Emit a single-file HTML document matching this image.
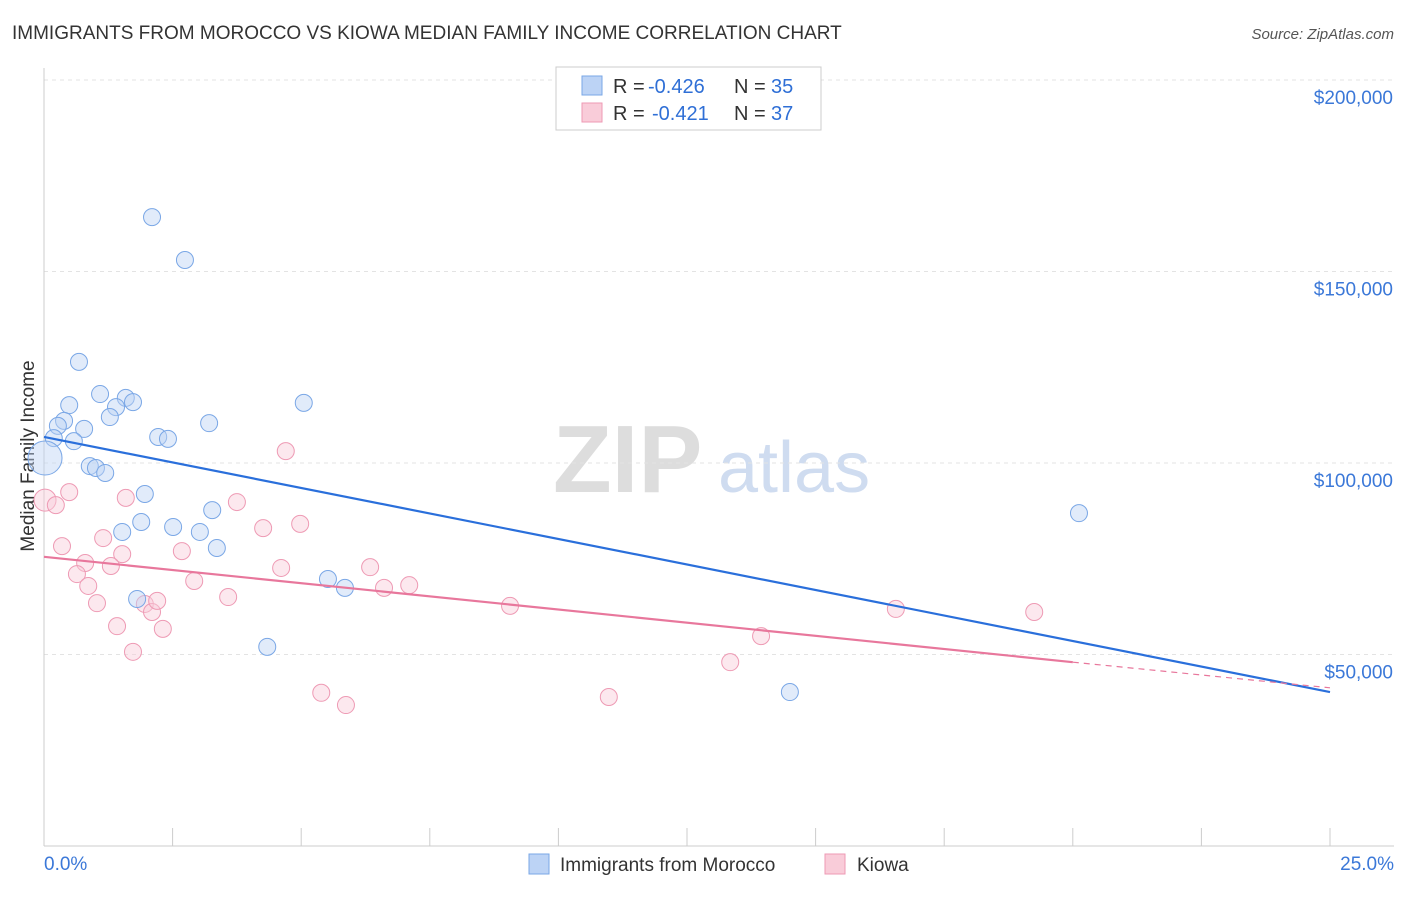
<!DOCTYPE html>
<html><head><meta charset="utf-8"><style>
body{margin:0;background:#fff;font-family:"Liberation Sans",sans-serif}
svg text{font-family:"Liberation Sans",sans-serif}
</style></head><body>
<svg id="c" width="1406" height="892" viewBox="0 0 1406 892" xmlns="http://www.w3.org/2000/svg">
<text x="12" y="39" font-size="19" fill="#333">IMMIGRANTS FROM MOROCCO VS KIOWA MEDIAN FAMILY INCOME CORRELATION CHART</text>
<text x="1394" y="39" font-size="15" fill="#555" text-anchor="end" font-style="italic">Source: ZipAtlas.com</text>
<text x="34" y="456" font-size="19" fill="#333" text-anchor="middle" transform="rotate(-90 34 456)">Median Family Income</text>
<g><text x="553" y="492" font-size="96" fill="#ddd" font-family="Liberation Serif" font-weight="bold">ZIP</text><text x="718" y="492" font-size="72" fill="#cfdcf0">atlas</text></g>
<g id="grid"></g><g id="axes"></g><g id="pts"></g><g id="lines"></g>
<g>
<rect x="556" y="67" width="265" height="63" fill="#fff" stroke="#ccc"/>
<rect x="582" y="76" width="20" height="19" fill="#bcd3f5" stroke="#7aa7e6"/>
<text x="613" y="93" font-size="20" fill="#333">R =</text>
<text x="648" y="93" font-size="20" fill="#2f6fd6">-0.426</text>
<text x="734" y="93" font-size="20" fill="#333">N =</text>
<text x="771" y="93" font-size="20" fill="#2f6fd6">35</text>
<rect x="582" y="103" width="20" height="19" fill="#f9ccd9" stroke="#ee9ab4"/>
<text x="613" y="120" font-size="20" fill="#333">R =</text>
<text x="652" y="120" font-size="20" fill="#2f6fd6">-0.421</text>
<text x="734" y="120" font-size="20" fill="#333">N =</text>
<text x="771" y="120" font-size="20" fill="#2f6fd6">37</text>
</g>
<g>
<rect x="529" y="854" width="20" height="20" fill="#bcd3f5" stroke="#7aa7e6"/>
<text x="560" y="871" font-size="19" fill="#333">Immigrants from Morocco</text>
<rect x="825" y="854" width="20" height="20" fill="#f9ccd9" stroke="#ee9ab4"/>
<text x="857" y="871" font-size="19" fill="#333">Kiowa</text>
</g>
</svg>
<script>
const yTicks=[50,100,150,200];
const yTickLabels=["$50,000","$100,000","$150,000","$200,000"];
const xTickLabels=["0.0%","25.0%"];
const blueX=[2.10,2.74,0.68,1.09,1.59,1.73,1.40,0.49,1.28,0.39,0.27,0.78,3.21,5.05,2.22,2.41,0.19,0.58,0.02,0.89,1.01,1.19,1.96,3.27,1.89,2.51,1.52,3.03,3.36,5.52,5.85,1.81,4.34,14.50,20.12];
const blueY=[164.2,153.0,126.4,118.0,117.0,115.9,114.6,115.1,112.0,111.0,109.7,108.9,110.4,115.7,106.8,106.3,106.5,105.7,101.3,99.2,98.7,97.4,91.9,87.7,84.6,83.3,82.0,82.0,77.8,69.7,67.4,64.5,52.0,40.2,86.9];
const pinkX=[0.02,0.23,0.49,0.35,1.15,1.59,1.52,0.80,1.30,0.64,0.86,1.03,1.42,1.73,1.96,2.10,2.20,2.31,2.68,2.92,3.58,3.75,4.26,4.61,4.70,4.98,5.39,5.87,6.34,6.61,7.10,9.06,10.98,13.34,13.94,16.56,19.25];
const pinkY=[90.3,89.0,92.4,78.3,80.4,90.9,76.2,73.9,73.1,71.0,67.9,63.4,57.4,50.7,63.2,61.1,64.0,56.7,77.0,69.2,65.0,89.8,83.0,72.6,103.1,84.1,40.0,36.8,72.8,67.4,68.1,62.7,38.9,48.0,54.8,61.9,61.1];
const blueTrend=[[0,106.8],[25,40.2]];
const pinkTrend=[[0,75.5],[20,48.0],[25,41.3]];
const X=v=>44+v/25*1286, Y=v=>846-v/50*191.5;
const NS="http://www.w3.org/2000/svg";
function mk(p,t,a){const e=document.createElementNS(NS,t);for(const k in a)e.setAttribute(k,a[k]);p.appendChild(e);return e;}
const grid=document.getElementById('grid'),axes=document.getElementById('axes'),pts=document.getElementById('pts'),lines=document.getElementById('lines');
yTicks.forEach((t,i)=>{
 const g=mk(grid,'line',{x1:44,x2:1394,y1:Y(t),y2:Y(t),stroke:'#e3e3e3','stroke-dasharray':'4,4'});
 
 
 const l=mk(axes,'text',{x:1393,y:Y(t)+24,'font-size':19,fill:'#3b78d8','text-anchor':'end'});l.textContent=yTickLabels[i];
 
 
});
const xa=mk(axes,'line',{x1:44,x2:1394,y1:846,y2:846,stroke:'#ccc'});


const ya=mk(axes,'line',{x1:44,x2:44,y1:68,y2:846,stroke:'#ccc'});


for(let i=1;i<=10;i++){const t=mk(axes,'line',{x1:X(i*2.5),x2:X(i*2.5),y1:828,y2:846,stroke:'#ccc'});
 
 }
[[0,'start',44],[25,'end',1394]].forEach((d,i)=>{const t=mk(axes,'text',{x:d[2],y:870,'font-size':19,fill:'#3b78d8','text-anchor':d[1]});t.textContent=xTickLabels[i];
 
 });
function dots(xs,ys,fill,stroke,name){xs.forEach((x,i)=>{const r=(x<0.1)?(name==='morocco-point'?17:11):8.5;
 const c=mk(pts,'circle',{cx:X(x),cy:Y(ys[i]),r:r,fill:fill,'fill-opacity':0.45,stroke:stroke,'stroke-width':1});
 
 });}
dots(pinkX,pinkY,'#f9ccd9','#ee9ab4','kiowa-point');
dots(blueX,blueY,'#bcd3f5','#7aa7e6','morocco-point');
const bl=mk(lines,'line',{x1:X(blueTrend[0][0]),y1:Y(blueTrend[0][1]),x2:X(blueTrend[1][0]),y2:Y(blueTrend[1][1]),stroke:'#2a6fdb','stroke-width':2.2});


const pl=mk(lines,'line',{x1:X(pinkTrend[0][0]),y1:Y(pinkTrend[0][1]),x2:X(pinkTrend[1][0]),y2:Y(pinkTrend[1][1]),stroke:'#e8779c','stroke-width':2.2});


const pd=mk(lines,'line',{x1:X(pinkTrend[1][0]),y1:Y(pinkTrend[1][1]),x2:X(pinkTrend[2][0]),y2:Y(pinkTrend[2][1]),stroke:'#e8779c','stroke-width':1.2,'stroke-dasharray':'6,5'});


</script>
</body></html>
